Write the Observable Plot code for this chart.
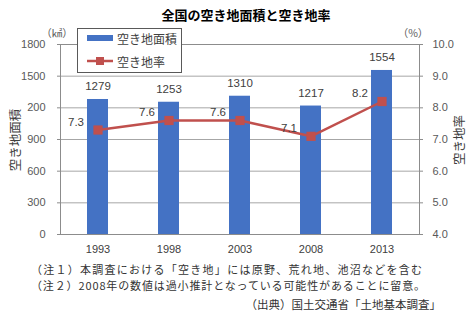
<!DOCTYPE html>
<html><head><meta charset="utf-8">
<script src="https://cdn.jsdelivr.net/npm/d3@7"></script>
<script src="https://cdn.jsdelivr.net/npm/@observablehq/plot@0.6"></script>
<style>body{margin:0;background:#fff} svg{display:block}</style>
</head><body><div id="chart"></div>
<script>
const years = ["1993","1998","2003","2008","2013"];
const area = [1279,1253,1310,1217,1554];
const rate = [7.3,7.6,7.6,7.1,8.2];
const leftTicks = [0,300,600,900,1200,1500,1800];
const leftTickLabels = ["0","300","600","900","200","1500","1800"];
const rightTicks = [4,5,6,7,8,9,10];
const rightTickLabels = ["4.0","5.0","6.0","7.0","8.0","9.0","10.0"];
const title = "全国の空き地面積と空き地率";
const seriesNames = ["空き地面積","空き地率"];
const leftUnit = "（㎢）";
const rightUnit = "（%）";
const notes = ["（注１）本調査における「空き地」には原野、荒れ地、池沼などを含む",
               "（注２）2008年の数値は過小推計となっている可能性があることに留意。"];
const source = "（出典）国土交通省「土地基本調査」";

const toLeft = v => (v - 4) / 6 * 1800;
const data = years.map((y, i) => ({year: y, area: area[i], rate: rate[i], rateY: toLeft(rate[i])}));
const numFont = "Liberation Sans, Arial, sans-serif";
const jpFont = "'Noto Sans CJK JP', sans-serif";

const plot = Plot.plot({
  width: 473, height: 322,
  marginTop: 44, marginBottom: 88, marginLeft: 60, marginRight: 54,
  style: {fontFamily: numFont, fontSize: "11px", color: "#595959", background: "#fff"},
  x: {domain: years, paddingInner: 0.7, paddingOuter: 0.35, axis: null},
  y: {domain: [0, 1800], axis: null},
  marks: [
    Plot.gridY(leftTicks, {stroke: "#a6a6a6", strokeOpacity: 1}),
    Plot.frame({stroke: "#8c8c8c"}),
    Plot.axisY(leftTicks, {anchor: "left", tickSize: 3, tickPadding: 12, stroke: "#8c8c8c",
      tickFormat: d => leftTickLabels[leftTicks.indexOf(d)], label: null, fill: "#595959"}),
    Plot.axisY(rightTicks.map(toLeft), {anchor: "right", tickSize: 3, tickPadding: 10, stroke: "#8c8c8c",
      tickFormat: d => rightTickLabels[Math.round(d / 300)], label: null, fill: "#595959"}),
    Plot.axisX({tickSize: 0, tickPadding: 11, label: null, fill: "#404040"}),
    Plot.barY(data, {x: "year", y: "area", fill: "#4472C4"}),
    Plot.text(data, {x: "year", y: "area", text: d => String(d.area), dy: -13, fill: "#404040", fontSize: 11.5}),
    Plot.line(data, {x: "year", y: "rateY", stroke: "#C0504D", strokeWidth: 2.5}),
    Plot.dot(data, {x: "year", y: "rateY", symbol: "square", r: 5.2, fill: "#C0504D", stroke: "none"}),
    Plot.text(data, {x: "year", y: "rateY", text: d => d.rate.toFixed(1), textAnchor: "end", dx: -14, dy: -8, fill: "#404040", fontSize: 11.5})
  ]
});

const svg = d3.select(plot);
const addText = (x, y, txt, opts = {}) => {
  const t = svg.append("text")
    .attr("x", x).attr("y", y)
    .attr("text-anchor", opts.anchor || "start")
    .attr("dominant-baseline", "central")
    .attr("font-family", opts.font || jpFont)
    .attr("font-size", opts.size || 12)
    .attr("font-weight", opts.weight || "normal")
    .attr("fill", opts.fill || "#404040")
    .text(txt);
  if (opts.transform) t.attr("transform", opts.transform).attr("x", 0).attr("y", 0);
  if (opts.len) t.attr("textLength", opts.len).attr("lengthAdjust", "spacing");
  return t;
};
// title
addText(246, 14, title, {anchor: "middle", weight: "bold", size: 13, fill: "#000"});
// units
addText(57, 32, leftUnit, {anchor: "middle", size: 10.5, fill: "#595959"});
addText(413, 32, rightUnit, {anchor: "middle", size: 10.5, fill: "#595959"});
// axis titles
addText(0, 0, seriesNames[0], {anchor: "middle", size: 12.5, transform: "translate(14,140) rotate(-90)"});
addText(0, 0, seriesNames[1], {anchor: "middle", size: 12.5, transform: "translate(458,140) rotate(-90)"});
// legend
svg.append("rect").attr("x", 77.5).attr("y", 28.5).attr("width", 104).attr("height", 44).attr("fill", "#fff").attr("stroke", "#595959");
svg.append("rect").attr("x", 87).attr("y", 35).attr("width", 26).attr("height", 6).attr("fill", "#4472C4");
addText(117, 38, seriesNames[0], {size: 12});
svg.append("line").attr("x1", 87).attr("x2", 113).attr("y1", 61).attr("y2", 61).attr("stroke", "#C0504D").attr("stroke-width", 2.5);
svg.append("rect").attr("x", 96).attr("y", 57).attr("width", 8).attr("height", 8).attr("fill", "#C0504D");
addText(117, 61, seriesNames[1], {size: 12});
// notes
addText(31, 269, notes[0], {size: 11, fill: "#333", len: 391});
addText(31, 285, notes[1], {size: 11, fill: "#333", len: 394});
addText(441, 304, source, {anchor: "end", size: 11.5, fill: "#333"});

document.getElementById("chart").appendChild(plot);
</script>
</body></html>
